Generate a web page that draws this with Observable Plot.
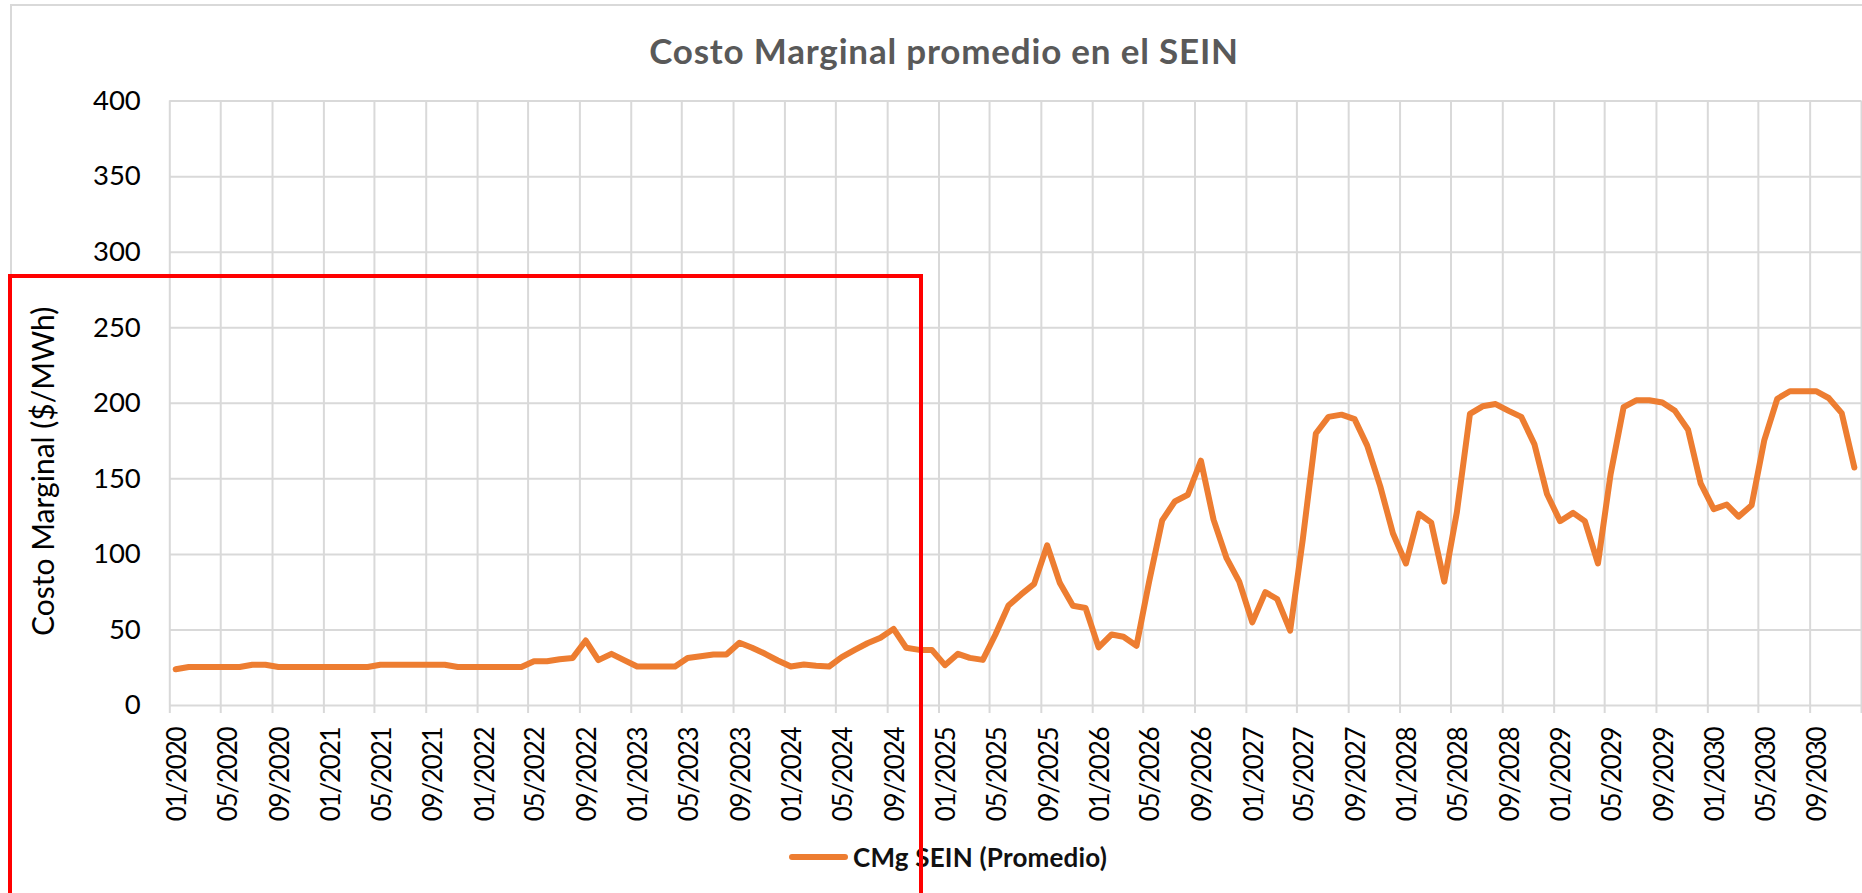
<!DOCTYPE html>
<html>
<head>
<meta charset="utf-8">
<script src="https://cdn.jsdelivr.net/npm/d3@7"></script>
<script src="https://cdn.jsdelivr.net/npm/@observablehq/plot@0.6"></script>
<style>
  html, body { margin: 0; padding: 0; background: #fff; }
  body { width: 1862px; height: 893px; overflow: hidden; position: relative; font-family: Lato, "Open Sans", sans-serif; }
  #frame { position: absolute; left: 10px; top: 4px; width: 1900px; height: 950px; border: 2px solid #d9d9d9; box-sizing: border-box; }
  #title { position: relative; height: 85px; width: 1888px; box-sizing: border-box; padding-top: 28.5px; line-height: 1.2; font-size: 35px; letter-spacing: 0.8px; font-weight: bold; color: #595959; text-align: center; }
  #chart { position: relative; height: 745px; }
  #legend { position: absolute; left: 789px; top: 841px; height: 32px; display: flex; align-items: center; }
  #legend .sw { width: 59px; height: 6px; border-radius: 3px; background: #ED7D31; margin-right: 5px; }
  #legend .lb { font-size: 26px; letter-spacing: 0.2px; font-weight: bold; color: #111; }
  #redbox { position: absolute; left: 8px; top: 273.5px; width: 915px; height: 700px; border: 4px solid #ff0000; box-sizing: border-box; }
  #chart svg g[aria-label="x-axis tick label"] text { letter-spacing: -1.2px; }
</style>
</head>
<body>
<div id="frame"></div>
<div id="title">Costo Marginal promedio en el SEIN</div>
<div id="chart"></div>
<div id="legend"><span class="sw"></span><span class="lb">CMg SEIN (Promedio)</span></div>
<div id="redbox"></div>
<script>
// Monthly average marginal cost (US$/MWh), 01/2020 .. 12/2030
const values = [
  24, 25.5, 25.5, 25.5, 25.5, 25.5, 27, 27, 25.5, 25.5, 25.5, 25.5,          // 2020
  25.5, 25.5, 25.5, 25.5, 27, 27, 27, 27, 27, 27, 25.5, 25.5,                // 2021
  25.5, 25.5, 25.5, 25.5, 29.3, 29.3, 30.6, 31.5, 43, 30, 34.2, 30,          // 2022
  25.8, 25.8, 25.8, 25.8, 31.5, 32.6, 33.7, 33.7, 41.5, 38.2, 34.2, 29.8,    // 2023
  25.8, 27.1, 26.3, 25.8, 32, 36.8, 41.2, 44.8, 50.7, 38.2, 36.8, 36.8,      // 2024
  26.7, 34.2, 31.5, 30.2, 47, 66.2, 73.5, 80.5, 106, 81, 66, 64.5,           // 2025
  38.5, 47, 45.5, 39.5, 82, 122.5, 135, 139.5, 162, 123, 97.5, 82,           // 2026
  55, 75, 70.5, 49.5, 110, 180, 191, 192.5, 189.5, 172, 145, 114,            // 2027
  94, 127, 121, 82, 128, 193, 198, 199.5, 195, 191, 173, 140,                // 2028
  122, 127.5, 122, 94, 153, 197.5, 202, 202, 200.5, 195, 182.5, 147,         // 2029
  130, 133, 125, 132.5, 175.5, 203, 208, 208, 208, 203.5, 193.5, 157.5       // 2030
];
const startYear = 2020;
const seriesName = "CMg SEIN (Promedio)";
const yTicks = [0, 50, 100, 150, 200, 250, 300, 350, 400];
const yLabel = "Costo Marginal ($/MWh)";

// each monthly value sits at the middle of its month
const months = values.map((v, i) => new Date(Date.UTC(startYear, i, 15)));
const data = values.map((v, i) => ({date: months[i], value: v}));

const xStart = new Date(Date.UTC(startYear, 0, 1));
const xEnd = new Date(Date.UTC(startYear + 11, 0, 1));
// grid lines / tick marks every 4 months, labels centred in the month
const gridDates = d3.utcMonth.every(4).range(xStart, d3.utcDay.offset(xEnd, 1));
const labelDates = gridDates.filter(d => d < xEnd).map(d => d3.utcDay.offset(d, 14));
const fmt = d3.utcFormat("%m/%Y");

const plot = Plot.plot({
  width: 1862,
  height: 745,
  marginLeft: 169.3,
  marginRight: 1,
  marginTop: 15.6,
  marginBottom: 125,
  style: {fontFamily: "Lato, 'Open Sans', sans-serif", background: "transparent", overflow: "visible"},
  x: {type: "utc", domain: [xStart, xEnd]},
  y: {domain: [0, 400]},
  marks: [
    Plot.gridY(yTicks, {stroke: "#d9d9d9", strokeOpacity: 1, strokeWidth: 2}),
    Plot.gridX(gridDates, {stroke: "#d9d9d9", strokeOpacity: 1, strokeWidth: 2}),
    Plot.axisY(yTicks, {tickSize: 0, tickPadding: 29, fontSize: 27.5, label: null, fill: "#000"}),
    Plot.axisX(gridDates, {tickSize: 8, stroke: "#d9d9d9", strokeWidth: 2, tickFormat: () => "", label: null}),
    Plot.axisX(labelDates, {tickSize: 0, tickPadding: 22, tickRotate: -90, dx: 2, tickFormat: fmt, fontSize: 26, label: null, fill: "#000"}),
    Plot.text([yLabel], {frameAnchor: "left", rotate: -90, dx: -116, dy: 68, lineAnchor: "bottom", textAnchor: "middle", fontSize: 30, fill: "#000"}),
    Plot.line(data, {x: "date", y: "value", stroke: "#ED7D31", strokeWidth: 6, strokeLinejoin: "round", strokeLinecap: "round"})
  ]
});
document.getElementById("chart").appendChild(plot);
</script>
</body>
</html>
